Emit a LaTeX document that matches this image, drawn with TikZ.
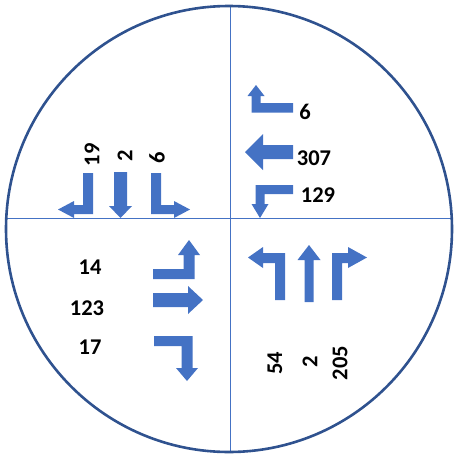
\documentclass[tikz,border=0pt]{standalone}
\usepackage{fontspec}
\setmainfont{Carlito}
\definecolor{arrowblue}{HTML}{4472C4}
\definecolor{ringblue}{HTML}{2F528F}
\tikzset{
  turn/.style={fill=arrowblue, draw=none},
  num/.style={font=\bfseries\fontsize{22.5}{22.5}\selectfont, inner sep=0pt, text=black},
  vnum/.style={num, rotate=90},
  axis/.style={draw=arrowblue, line width=1pt},
  ring/.style={draw=ringblue, line width=2.6pt}
}
\begin{document}
\begin{tikzpicture}[x=1pt,y=-1pt]
\useasboundingbox (0,0) rectangle (455,458);
\coordinate (c) at (229,229);
\begin{scope}
  \clip (c) circle (223);
  \draw[axis] (0,218) -- (455,218);
  \draw[axis] (230,0) -- (230,458);
\end{scope}
\draw[ring] (c) circle (223);

% top-left
\fill[turn] (93,173) -- (93,214) -- (74,214) -- (74,218) -- (58,209.5) -- (74,201) -- (74,205) -- (83,205) -- (83,173) -- cycle;
\fill[turn] (114,172) -- (127,172) -- (127,206) -- (132,206) -- (120.5,218) -- (109,206) -- (114,206) -- cycle;
\fill[turn] (151,173) -- (161,173) -- (161,205) -- (174,205) -- (174,201) -- (190,209.5) -- (174,218) -- (174,214) -- (151,214) -- cycle;
\node[vnum] (n19) at (92,155) {19};
\node[vnum] (n2a) at (125,156) {2};
\node[vnum] (n6a) at (157,158) {6};

% top-right
\fill[turn] (293,103) -- (293,112.5) -- (251.5,112.5) -- (251.5,96) -- (247.5,96) -- (256,85) -- (264.5,96) -- (260.5,96) -- (260.5,103) -- cycle;
\fill[turn] (293,145) -- (293,159) -- (263,159) -- (263,170) -- (245,152) -- (263,134) -- (263,145) -- cycle;
\fill[turn] (293,185) -- (293,194) -- (264.5,194) -- (264.5,204) -- (268.5,204) -- (260,218) -- (251.5,204) -- (255.5,204) -- (255.5,185) -- cycle;
\node[num] (n6b) at (305,112) {6};
\node[num] (n307) at (314,158) {307};
\node[num] (n129) at (318,195) {129};

% bottom-left
\fill[turn] (153,269) -- (183.5,269) -- (183.5,255) -- (178,255) -- (189,240) -- (200,255) -- (194.5,255) -- (194.5,279) -- (153,279) -- cycle;
\fill[turn] (153,293) -- (188,293) -- (188,286) -- (203,300) -- (188,314) -- (188,307) -- (153,307) -- cycle;
\fill[turn] (154,336) -- (192.5,336) -- (192.5,368) -- (198,368) -- (187,381) -- (176,368) -- (181.5,368) -- (181.5,346) -- (154,346) -- cycle;
\node[num] (n14) at (90,267) {14};
\node[num] (n123) at (87,308) {123};
\node[num] (n17) at (90,347) {17};

% bottom-right
\fill[turn] (285,253) -- (285,300) -- (275,300) -- (275,263) -- (263,263) -- (263,268) -- (248,257.5) -- (263,247) -- (263,253) -- cycle;
\fill[turn] (304.5,302) -- (304.5,260) -- (297.5,260) -- (309,245) -- (320.5,260) -- (313.5,260) -- (313.5,302) -- cycle;
\fill[turn] (332,300) -- (332,253) -- (348,253) -- (348,247) -- (367,257.5) -- (348,268) -- (348,263) -- (342,263) -- (342,300) -- cycle;
\node[vnum] (n54) at (275,363) {54};
\node[vnum] (n2b) at (310,362) {2};
\node[vnum] (n205) at (340,363) {205};
\end{tikzpicture}
\end{document}
